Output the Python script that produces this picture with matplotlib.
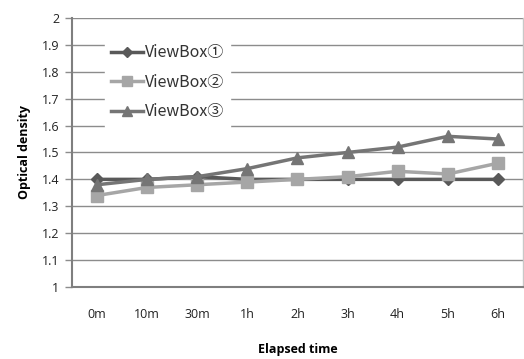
import matplotlib.pyplot as plt

plt.rcParams['font.family'] = ['Open Sans', 'Noto Sans CJK JP', 'DejaVu Sans']

# 経過時間と光学濃度
times = ['0m', '10m', '30m', '1h', '2h', '3h', '4h', '5h', '6h']
viewbox1 = [1.40, 1.40, 1.41, 1.40, 1.40, 1.40, 1.40, 1.40, 1.40]
viewbox2 = [1.34, 1.37, 1.38, 1.39, 1.40, 1.41, 1.43, 1.42, 1.46]
viewbox3 = [1.38, 1.40, 1.41, 1.44, 1.48, 1.50, 1.52, 1.56, 1.55]
names = ['ViewBox①', 'ViewBox②', 'ViewBox③']

fig = plt.figure(figsize=(5.24, 3.59), dpi=100)
ax = fig.add_axes([0.1374, 0.2006, 0.8606, 0.7494])

x = range(len(times))
ax.plot(x, viewbox1, color='#595959', lw=2.5, marker='D', ms=6, label=names[0], zorder=3)
ax.plot(x, viewbox2, color='#a6a6a6', lw=2.5, marker='s', ms=8, label=names[1], zorder=4)
ax.plot(x, viewbox3, color='#757575', lw=2.5, marker='^', ms=8, label=names[2], zorder=5)

ax.set_xlim(-0.5, len(times) - 0.5)
ax.set_ylim(1, 2)
ax.set_yticks([1 + i / 10 for i in range(11)])
ax.set_yticklabels(['1', '1.1', '1.2', '1.3', '1.4', '1.5', '1.6', '1.7', '1.8', '1.9', '2'])
ax.set_xticks(list(x))
ax.set_xticklabels(times)

ax.grid(axis='y', color='#8c8c8c', lw=1)
ax.set_axisbelow(True)
ax.tick_params(axis='x', length=0, pad=15, labelsize=9, colors='#222222')
ax.tick_params(axis='y', length=5, width=1, color='#8c8c8c', pad=4, labelsize=9, labelcolor='#222222')

for s in ['left', 'bottom']:
    ax.spines[s].set_color('#7f7f7f')
    ax.spines[s].set_linewidth(1.5)
ax.spines['top'].set_visible(False)
ax.spines['right'].set_color('#c8c8c8')
ax.spines['right'].set_linewidth(1)

ax.set_ylabel('Optical density', fontsize=9, fontweight='bold', labelpad=8)
ax.set_xlabel('Elapsed time', fontsize=9, fontweight='bold', labelpad=16)

leg = ax.legend(loc='upper left', bbox_to_anchor=(0.055, 0.955), frameon=True, fancybox=False,
                edgecolor='white', facecolor='white', framealpha=1,
                prop={'family': ['Noto Sans CJK JP', 'DejaVu Sans'], 'size': 11.5},
                handlelength=2.0, handletextpad=0.1, labelspacing=0.78, borderpad=0.4,
                markerscale=0.85)
for t in leg.get_texts():
    t.set_color('#333333')

fig.savefig('out.png', dpi=100)
